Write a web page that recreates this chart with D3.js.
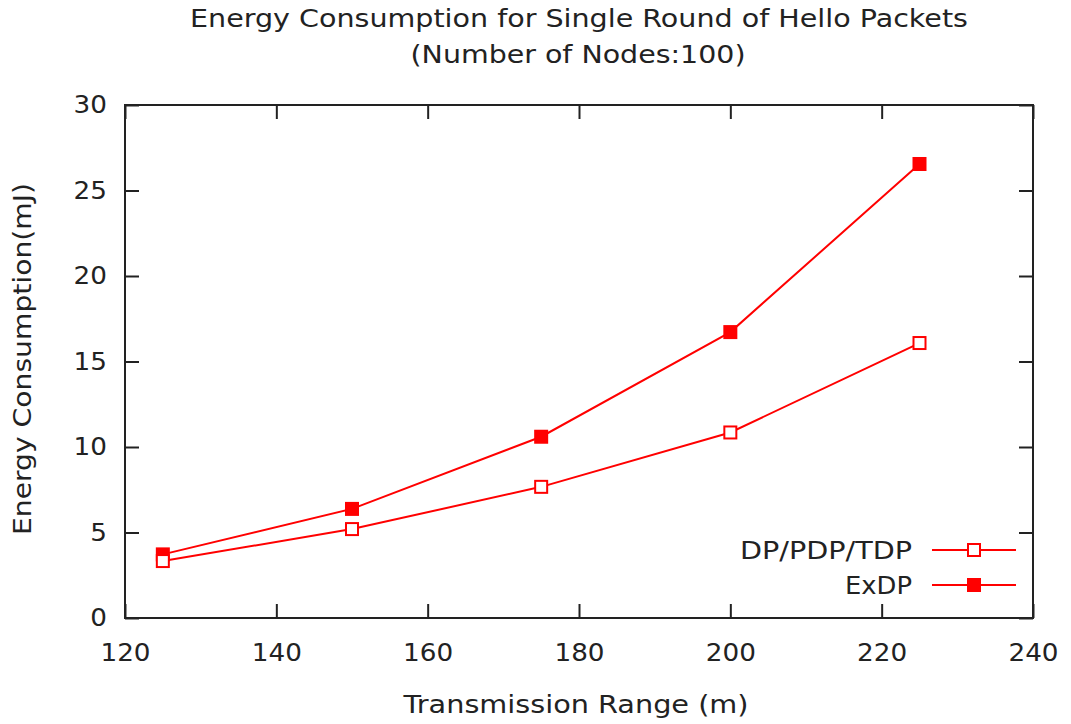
<!doctype html>
<html lang="en">
  <head>
    <meta charset="utf-8">
    <title>Energy Consumption for Single Round of Hello Packets</title>
    <style>
      body { margin: 0; background: #fff; }
      text { font-family: "DejaVu Sans", Verdana, sans-serif; fill: #222; }
    </style>
  </head>
  <body>
    <script src="https://cdn.jsdelivr.net/npm/d3@7"></script>
    <script>
      var ranges = [125, 150, 175, 200, 225];
      var dpValues = [3.33, 5.2, 7.67, 10.85, 16.08];
      var exdpValues = [3.72, 6.38, 10.6, 16.72, 26.55];
      var seriesNames = ["DP/PDP/TDP", "ExDP"];
      var xTicks = [120, 140, 160, 180, 200, 220, 240];
      var yTicks = [0, 5, 10, 15, 20, 25, 30];

      var W = 1071, H = 724;
      var margin = {top: 105, right: 38, bottom: 106, left: 125},
          width = W - margin.left - margin.right,
          height = H - margin.top - margin.bottom;

      var svg = d3.select("body")
        .append("svg")
        .attr("width", W)
        .attr("height", H);

      var chart = svg.append("g")
        .attr("transform", "translate(" + margin.left + "," + margin.top + ")");

      var x = d3.scaleLinear().domain([120, 240]).range([0, width]);
      var y = d3.scaleLinear().domain([0, 30]).range([height, 0]);

      var tickLen = 14;
      // axes with inward ticks on all four sides
      chart.append("g")
        .attr("transform", "translate(0," + height + ")")
        .call(d3.axisBottom(x).tickValues(xTicks).tickSizeInner(-tickLen).tickSizeOuter(0).tickPadding(tickLen + 12));
      chart.append("g")
        .call(d3.axisTop(x).tickValues(xTicks).tickSizeInner(-tickLen).tickSizeOuter(0).tickFormat(""));
      chart.append("g")
        .call(d3.axisLeft(y).tickValues(yTicks).tickSizeInner(-tickLen).tickSizeOuter(0).tickPadding(tickLen + 4));
      chart.append("g")
        .attr("transform", "translate(" + width + ",0)")
        .call(d3.axisRight(y).tickValues(yTicks).tickSizeInner(-tickLen).tickSizeOuter(0).tickFormat(""));

      chart.selectAll(".domain").remove();
      chart.selectAll(".tick line").attr("stroke", "#222").attr("stroke-width", 2);
      chart.selectAll(".tick text")
        .attr("font-size", 24)
        .attr("font-family", "DejaVu Sans, sans-serif")
        .attr("fill", "#222")
        .attr("lengthAdjust", "spacingAndGlyphs")
        .attr("textLength", function(){ return this.textContent.length * 16.7; });

      chart.append("rect")
        .attr("width", width)
        .attr("height", height)
        .attr("fill", "none")
        .attr("stroke", "#222")
        .attr("stroke-width", 2);

      var line = d3.line()
        .x(function(d, i){ return x(ranges[i]); })
        .y(function(d){ return y(d); });

      var red = "#ff0000";
      var mk = 14;

      // DP/PDP/TDP (open squares)
      chart.append("path")
        .datum(dpValues)
        .attr("d", line)
        .attr("fill", "none")
        .attr("stroke", red)
        .attr("stroke-width", 2);
      // ExDP (filled squares)
      chart.append("path")
        .datum(exdpValues)
        .attr("d", line)
        .attr("fill", "none")
        .attr("stroke", red)
        .attr("stroke-width", 2);

      chart.selectAll(".exdp")
        .data(exdpValues)
        .enter()
        .append("rect")
        .attr("x", function(d, i){ return x(ranges[i]) - mk / 2; })
        .attr("y", function(d){ return y(d) - mk / 2; })
        .attr("width", mk)
        .attr("height", mk)
        .attr("fill", red);

      chart.selectAll(".dp")
        .data(dpValues)
        .enter()
        .append("rect")
        .attr("x", function(d, i){ return x(ranges[i]) - (mk - 2) / 2; })
        .attr("y", function(d){ return y(d) - (mk - 2) / 2; })
        .attr("width", mk - 2)
        .attr("height", mk - 2)
        .attr("fill", "#fff")
        .attr("stroke", red)
        .attr("stroke-width", 2);

      // legend
      var legend = svg.append("g");
      var legendWidths = [172, 67];
      seriesNames.forEach(function(name, i){
        var ly = 550 + i * 35;
        var row = legend.append("g").attr("transform", "translate(0," + ly + ")");
        row.append("text")
          .attr("x", 912)
          .attr("y", 0)
          .attr("dy", "0.36em")
          .attr("text-anchor", "end")
          .attr("font-size", 24)
          .attr("textLength", legendWidths[i])
          .attr("lengthAdjust", "spacingAndGlyphs")
          .text(name);
        row.append("line")
          .attr("x1", 932).attr("x2", 1016)
          .attr("y1", 0).attr("y2", 0)
          .attr("stroke", red)
          .attr("stroke-width", 2);
        if (i === 0) {
          row.append("rect")
            .attr("x", 974 - 6).attr("y", -6)
            .attr("width", 12).attr("height", 12)
            .attr("fill", "#fff").attr("stroke", red).attr("stroke-width", 2);
        } else {
          row.append("rect")
            .attr("x", 974 - 7).attr("y", -7)
            .attr("width", 14).attr("height", 14)
            .attr("fill", red);
        }
      });

      // titles
      svg.append("text")
        .attr("x", 579).attr("y", 27)
        .attr("text-anchor", "middle")
        .attr("font-size", 24)
        .attr("textLength", 778)
        .attr("lengthAdjust", "spacingAndGlyphs")
        .text("Energy Consumption for Single Round of Hello Packets");
      svg.append("text")
        .attr("x", 578).attr("y", 63)
        .attr("text-anchor", "middle")
        .attr("font-size", 24)
        .attr("textLength", 335)
        .attr("lengthAdjust", "spacingAndGlyphs")
        .text("(Number of Nodes:100)");

      svg.append("text")
        .attr("x", 576).attr("y", 713)
        .attr("text-anchor", "middle")
        .attr("font-size", 24)
        .attr("textLength", 345)
        .attr("lengthAdjust", "spacingAndGlyphs")
        .text("Transmission Range (m)");

      svg.append("text")
        .attr("transform", "translate(31," + 359 + ") rotate(-90)")
        .attr("text-anchor", "middle")
        .attr("font-size", 24)
        .attr("textLength", 352)
        .attr("lengthAdjust", "spacingAndGlyphs")
        .text("Energy Consumption(mJ)");
    </script>
  </body>
</html>
